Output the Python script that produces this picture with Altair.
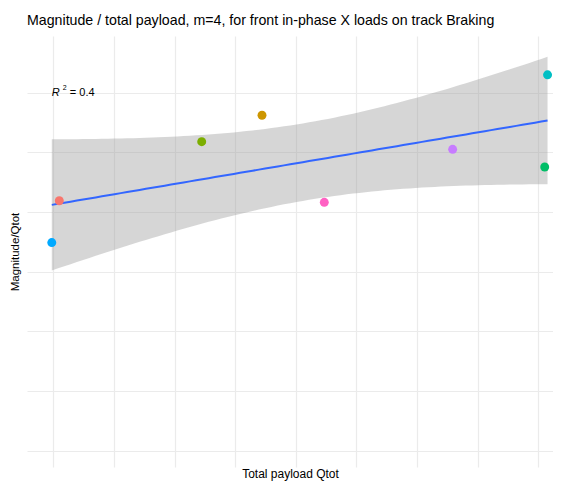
import altair as alt
import pandas as pd
import numpy as np

# ---- data ----
groups = ["g1", "g2", "g3", "g4", "g5", "g6", "g7", "g8"]
payload = [20.96, 54.41, 44.46, 101.06, 101.53, 19.72, 85.87, 64.69]
magnitude_ratio = [0.2095, 0.2811, 0.2590, 0.2378, 0.3150, 0.1745, 0.2526, 0.2082]
group_colors = ["#F8766D", "#CD9600", "#7CAE00", "#00BE67",
                "#00BFC4", "#00A9FF", "#C77CFF", "#FF61C3"]

x_grid = [20, 30, 40, 50, 60, 70, 80, 90, 100]
y_grid = [0.0, 0.05, 0.10, 0.15, 0.20, 0.25, 0.30]
x_domain = [15.63, 102.43]
y_domain = [-0.0135, 0.3475]
title_text = "Magnitude / total payload, m=4, for front in-phase X loads on track Braking"

# ---- linear fit with 95% confidence band (as geom_smooth(method="lm")) ----
x = np.array(payload)
y = np.array(magnitude_ratio)
n = len(x)
xbar, ybar = x.mean(), y.mean()
sxx = ((x - xbar) ** 2).sum()
sxy = ((x - xbar) * (y - ybar)).sum()
slope = sxy / sxx
intercept = ybar - slope * xbar
resid = y - (intercept + slope * x)
s = np.sqrt((resid ** 2).sum() / (n - 2))
r2 = 1 - (resid ** 2).sum() / ((y - ybar) ** 2).sum()
t975 = 2.446912  # t quantile, df = 6
xs = np.linspace(x.min(), x.max(), 80)
fit = intercept + slope * xs
se = s * np.sqrt(1 / n + (xs - xbar) ** 2 / sxx)
band = pd.DataFrame({"x": xs, "fit": fit, "lo": fit - t975 * se, "hi": fit + t975 * se})

pts = pd.DataFrame({"x": payload, "y": magnitude_ratio, "group": groups})
lab = pd.DataFrame({"x": [x.min()], "y": [0.30], "r": ["R"], "sup": ["2"],
                    "rest": [f"= {r2:.1f}"]})

FONT = "Liberation Sans"

xax = alt.Axis(values=x_grid, labels=False, ticks=False, domain=False, grid=True,
               gridColor="#EBEBEB", gridWidth=1.2, title="Total payload Qtot",
               titleFont=FONT, titleFontSize=12, titleFontWeight="normal",
               titleColor="#000000", titlePadding=1)
yax = alt.Axis(values=y_grid, labels=False, ticks=False, domain=False, grid=True,
               gridColor="#EBEBEB", gridWidth=1.2, title="Magnitude/Qtot",
               titleFont=FONT, titleFontSize=11.5, titleFontWeight="normal",
               titleColor="#000000", titlePadding=7)
xs_scale = alt.Scale(domain=x_domain, nice=False, zero=False)
ys_scale = alt.Scale(domain=y_domain, nice=False, zero=False)

X = alt.X("x:Q", scale=xs_scale, axis=xax)

area = alt.Chart(band).mark_area(color="#999999", opacity=0.4).encode(
    x=X,
    y=alt.Y("lo:Q", scale=ys_scale, axis=yax),
    y2="hi:Q",
)
line = alt.Chart(band).mark_line(color="#3366FF", strokeWidth=2).encode(
    x=X,
    y=alt.Y("fit:Q", scale=ys_scale, axis=yax),
)
points = alt.Chart(pts).mark_circle(size=80, opacity=1).encode(
    x=X,
    y=alt.Y("y:Q", scale=ys_scale, axis=yax),
    color=alt.Color("group:N", scale=alt.Scale(domain=groups, range=group_colors), legend=None),
)
t_r = alt.Chart(lab).mark_text(align="left", baseline="middle", font=FONT, fontSize=11,
                               fontStyle="italic", color="#000000").encode(
    x=X, y=alt.Y("y:Q", scale=ys_scale, axis=yax), text="r:N")
t_sup = alt.Chart(lab).mark_text(align="left", baseline="middle", font=FONT, fontSize=7,
                                 color="#000000", dx=11, dy=-5).encode(
    x=X, y=alt.Y("y:Q", scale=ys_scale, axis=yax), text="sup:N")
t_rest = alt.Chart(lab).mark_text(align="left", baseline="middle", font=FONT, fontSize=11,
                                  color="#000000", dx=18).encode(
    x=X, y=alt.Y("y:Q", scale=ys_scale, axis=yax), text="rest:N")

chart = alt.layer(area, line, points, t_r, t_sup, t_rest).properties(
    width=526,
    height=431,
    padding={"left": 19, "top": 28, "right": 0, "bottom": 14},
    autosize=alt.AutoSizeParams(type="none"),
    title=alt.TitleParams(title_text, anchor="start", frame="group", font=FONT,
                          fontSize=14.2, fontWeight="normal", color="#000000", offset=8),
    background="white",
).configure_view(stroke=None)

chart.save("out.html", embed_options={"renderer": "svg", "actions": False})
